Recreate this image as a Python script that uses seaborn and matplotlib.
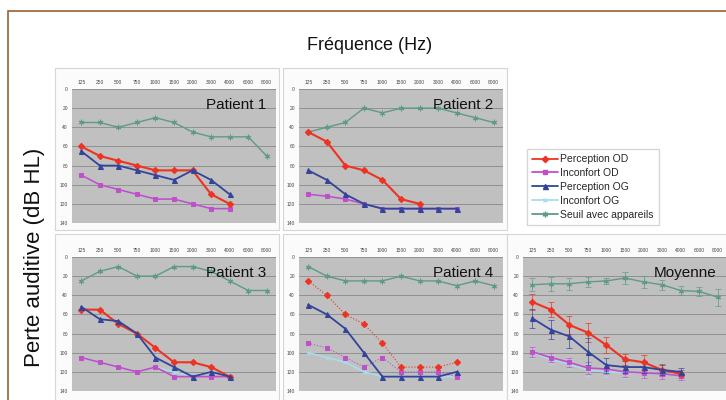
import matplotlib
matplotlib.use("Agg")
import matplotlib.pyplot as plt
import seaborn as sns
import numpy as np
import pandas as pd
from matplotlib.patches import Rectangle
from matplotlib.lines import Line2D

sns.set_theme(style="white")
plt.rcParams['font.family'] = ['Liberation Sans', 'DejaVu Sans']

freqs = ["125", "250", "500", "750", "1000", "1500", "2000", "3000", "4000", "6000", "8000"]
yticks = [0, 20, 40, 60, 80, 100, 120, 140]
series_names = ["Perception OD", "Inconfort OD", "Perception OG", "Inconfort OG", "Seuil avec appareils"]
panel_titles = ["Patient 1", "Patient 2", "Patient 3", "Patient 4", "Moyenne"]

# Patient 1
p1_perc_od = [60, 70, 75, 80, 85, 85, 85, 110, 120]
p1_inc_od = [90, 100, 105, 110, 115, 115, 120, 125, 125]
p1_perc_og = [65, 80, 80, 85, 90, 95, 85, 95, 110]
p1_inc_og = [90, 100, 105, 110, 115, 115, 120, 125, 125]
p1_seuil = [35, 35, 40, 35, 30, 35, 45, 50, 50, 50, 70]
# Patient 2
p2_perc_od = [45, 55, 80, 85, 95, 115, 120]
p2_inc_od = [110, 112, 115, 120, 125, 125, 125, 125, 125]
p2_perc_og = [85, 95, 110, 120, 125, 125, 125, 125, 125]
p2_inc_og = [110, 112, 115, 120, 125, 125, 125, 125, 125]
p2_seuil = [45, 40, 35, 20, 25, 20, 20, 20, 25, 30, 35]
# Patient 3
p3_perc_od = [55, 55, 70, 80, 95, 110, 110, 115, 125]
p3_inc_od = [105, 110, 115, 120, 115, 125, 125, 125, 125]
p3_perc_og = [52, 65, 67, 80, 105, 115, 125, 120, 125]
p3_inc_og = [105, 110, 115, 120, 115, 120, 125, 120, 125]
p3_seuil = [25, 15, 10, 20, 20, 10, 10, 15, 25, 35, 35]
# Patient 4
p4_perc_od = [25, 40, 60, 70, 90, 115, 115, 115, 110]
p4_inc_od = [90, 95, 105, 115, 105, 120, 120, 120, 125]
p4_perc_og = [50, 60, 75, 100, 125, 125, 125, 125, 120]
p4_inc_og = [100, 105, 110, 120, 125, 125, 125, 125, 125]
p4_seuil = [10, 20, 25, 25, 25, 20, 25, 25, 30, 25, 30]
# Moyenne
m_perc_od = [47, 55, 71, 79, 92, 107, 110, 118, 122]
m_inc_od = [99, 105, 110, 116, 117, 120, 121, 122, 124]
m_perc_og = [64, 76, 83, 99, 113, 115, 115, 118, 120]
m_inc_og = [100, 107, 112, 118, 120, 121, 121, 122, 124]
m_seuil = [29, 28, 28, 26, 25, 22, 26, 29, 35, 36, 42]
m_err_perc_od = [8, 8, 9, 10, 8, 6, 8, 6, 4]
m_err_inc_od = [5, 5, 5, 6, 5, 5, 5, 5, 4]
m_err_perc_og = [10, 10, 12, 14, 8, 6, 6, 5, 4]
m_err_inc_og = [5, 5, 5, 6, 5, 5, 5, 5, 4]
m_err_seuil = [7, 7, 6, 5, 3, 6, 6, 5, 5, 5, 9]

panels = [
    [p1_perc_od, p1_inc_od, p1_perc_og, p1_inc_og, p1_seuil],
    [p2_perc_od, p2_inc_od, p2_perc_og, p2_inc_og, p2_seuil],
    [p3_perc_od, p3_inc_od, p3_perc_og, p3_inc_og, p3_seuil],
    [p4_perc_od, p4_inc_od, p4_perc_og, p4_inc_og, p4_seuil],
    [m_perc_od, m_inc_od, m_perc_og, m_inc_og, m_seuil],
]
mean_errs = [m_err_perc_od, m_err_inc_od, m_err_perc_og, m_err_inc_og, m_err_seuil]

colors = ["#ee3322", "#c050c8", "#33449a", "#a8dcee", "#5e9a88"]
markers = ["D", "s", "^", "x", (6, 2, 0)]
msizes = [3.2, 3.2, 3.6, 3.5, 4]
zorders = [5, 4, 5, 3, 4]
lwidths = [1.5, 1.2, 1.3, 1.2, 1.0]

W, H = 726, 400
fig = plt.figure(figsize=(7.26, 4.0), dpi=100)
fig.patch.set_facecolor("white")

def fr(x, y, w, h):
    return [x / W, 1 - (y + h) / H, w / W, h / H]

# outer brown frame
fig.add_artist(Rectangle((8 / W, -0.1), 1.2, 1 - 11 / H + 0.1, transform=fig.transFigure,
                         fill=False, edgecolor="#9a6030", lw=1.2, zorder=-2))

# white boxes behind panels
boxes = [(55, 68, 224, 162), (283, 68, 224, 162), (55, 234, 224, 175), (283, 234, 224, 175), (507, 234, 230, 175)]
for bx in boxes:
    fig.add_artist(Rectangle((bx[0] / W, 1 - (bx[1] + bx[3]) / H), bx[2] / W, bx[3] / H,
                             transform=fig.transFigure, facecolor="#fbfbfb", edgecolor="#d6d6d6",
                             lw=0.8, zorder=-1))

axes_rects = [(72, 89, 204, 134), (299, 89, 204, 134), (72, 257, 204, 134), (299, 257, 204, 134), (523, 257, 204, 134)]
x_idx = list(range(len(freqs)))

for pi, (rect, pdata) in enumerate(zip(axes_rects, panels)):
    ax = fig.add_axes(fr(*rect))
    ax.set_zorder(1)
    ax.set_facecolor("#c0c0c0")
    for i, vals in enumerate(pdata):
        xs = x_idx[:len(vals)]
        ls = "-"
        lw = lwidths[i]
        if pi == 3 and i in (0, 1):
            ls = ":"
            lw = 0.8
        sns.lineplot(x=xs, y=vals, ax=ax, color=colors[i], marker=markers[i], markersize=msizes[i],
                     markeredgecolor=colors[i], lw=lw, linestyle=ls, zorder=zorders[i], legend=False)
        if pi == 4:
            ax.errorbar(xs, vals, yerr=mean_errs[i][:len(vals)], fmt="none", ecolor=colors[i],
                        elinewidth=0.6, capsize=2, capthick=0.6, zorder=zorders[i] - 1, alpha=0.8)
    ax.set_xlim(-0.5, 10.5)
    ax.set_ylim(140, 0)
    ax.set_yticks(yticks)
    ax.set_yticklabels([str(t) for t in yticks], fontsize=3.5, color="#444444")
    ax.set_xticks(x_idx)
    ax.set_xticklabels(freqs, fontsize=3.5, color="#444444")
    ax.xaxis.tick_top()
    ax.tick_params(axis="both", length=0, pad=3)
    ax.grid(axis="y", color="#8a8a8a", lw=0.6)
    ax.set_axisbelow(True)
    for s in ax.spines.values():
        s.set_visible(False)
    ax.set_xlabel("")
    ax.set_ylabel("")
    ax.text(0.95, 0.93, panel_titles[pi], transform=ax.transAxes, ha="right", va="top",
            fontsize=11, color="#111111", zorder=10)

# legend
handles = [Line2D([0], [0], color=colors[i], marker=markers[i], markersize=msizes[i],
                  markeredgecolor=colors[i], lw=1.3) for i in range(5)]
fig.legend(handles, series_names, loc="upper left", bbox_to_anchor=(527 / W, 1 - 149 / H),
           borderaxespad=0, fontsize=7.5, frameon=True, edgecolor="#cccccc", fancybox=False,
           handlelength=2.5, handletextpad=0.2, borderpad=0.5, labelspacing=0.37)

fig.text(370 / W, 1 - 45 / H, "Fréquence (Hz)", ha="center", va="center", fontsize=13, color="#111111")
fig.text(35 / W, 1 - 257 / H, "Perte auditive (dB HL)", ha="center", va="center", rotation=90,
         fontsize=16, color="#111111")

fig.savefig("out.png", dpi=100)
